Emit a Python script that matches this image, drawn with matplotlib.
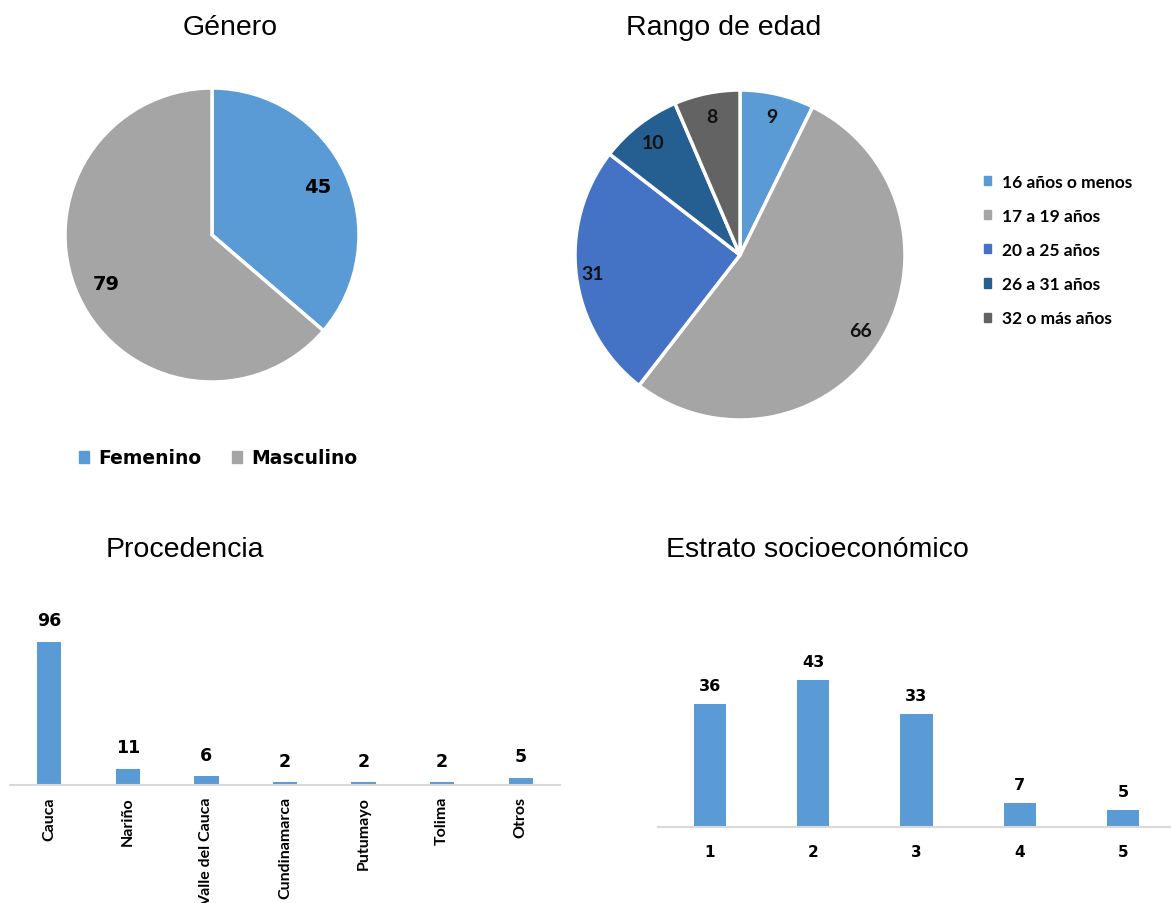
import matplotlib
matplotlib.use('Agg')
import matplotlib.pyplot as plt
import numpy as np
from matplotlib.patches import Patch

# datos de la encuesta
genero = ['Femenino', 'Masculino']
genero_n = [45, 79]

edad = ['16 años o menos', '17 a 19 años', '20 a 25 años', '26 a 31 años', '32 o más años']
edad_n = [9, 66, 31, 10, 8]

procedencia = ['Cauca', 'Nariño', 'Valle del Cauca', 'Cundinamarca', 'Putumayo', 'Tolima', 'Otros']
procedencia_n = [96, 11, 6, 2, 2, 2, 5]

estrato = ['1', '2', '3', '4', '5']
estrato_n = [36, 43, 33, 7, 5]

AZUL = '#5B9BD5'
GRIS = '#A5A5A5'
colores_edad = [AZUL, GRIS, '#4472C4', '#255E91', '#636363']

W, H = 1171, 904
fig = plt.figure(figsize=(W / 100, H / 100), dpi=100)
fig.patch.set_facecolor('white')

def caja(x0, y_top, w, h):
    # rectangulo en pixeles (origen arriba a la izquierda) -> fracciones de figura
    return [x0 / W, (H - y_top - h) / H, w / W, h / H]

titulo = dict(family='Liberation Sans', fontsize=20.5, ha='center', va='center')
fig.text(230 / W, 1 - 28 / H, 'Género', **titulo)
fig.text(724 / W, 1 - 28 / H, 'Rango de edad', **titulo)
fig.text(185 / W, 1 - 550 / H, 'Procedencia', **titulo)
fig.text(817 / W, 1 - 550 / H, 'Estrato socioeconómico', **titulo)

# ---- Género ----
r1 = 147
ax1 = fig.add_axes(caja(212 - r1, 236 - r1, 2 * r1, 2 * r1))
w1, _ = ax1.pie(genero_n, colors=[AZUL, GRIS], startangle=90, counterclock=False,
                wedgeprops=dict(edgecolor='white', linewidth=2.5))
for w, v in zip(w1, genero_n):
    ang = np.deg2rad((w.theta1 + w.theta2) / 2)
    ax1.text(0.79 * np.cos(ang), 0.79 * np.sin(ang), str(v), ha='center', va='center',
             fontsize=14, fontweight='bold', family='DejaVu Sans', color='black')
ax1.set_xlim(-1, 1)
ax1.set_ylim(-1, 1)
ax1.set_aspect('equal')

fig.legend(handles=[Patch(color=AZUL, label='Femenino'), Patch(color=GRIS, label='Masculino')],
           loc='center', bbox_to_anchor=(218 / W, 1 - 459 / H), ncol=2, frameon=False,
           prop=dict(family='DejaVu Sans', weight='bold', size=13.5),
           handlelength=0.55, handleheight=0.55, handletextpad=0.5, columnspacing=1.6)

# ---- Rango de edad ----
r2 = 165
ax2 = fig.add_axes(caja(740 - r2, 256 - r2, 2 * r2, 2 * r2))
w2, _ = ax2.pie(edad_n, colors=colores_edad, startangle=90, counterclock=False,
                wedgeprops=dict(edgecolor='white', linewidth=2.5))
for w, v in zip(w2, edad_n):
    ang = np.deg2rad((w.theta1 + w.theta2) / 2)
    d = 0.9 if v == 31 else 0.86
    ax2.text(d * np.cos(ang), d * np.sin(ang), str(v), ha='center', va='center',
             fontsize=14, fontweight='bold', family='Lato', color='#111111')
ax2.set_xlim(-1, 1)
ax2.set_ylim(-1, 1)
ax2.set_aspect('equal')

fig.legend(handles=[Patch(color=c, label=l) for c, l in zip(colores_edad, edad)],
           loc='center left', bbox_to_anchor=(968 / W, 1 - 251 / H), ncol=1, frameon=False,
           prop=dict(family='Lato', weight='bold', size=12.5),
           handlelength=0.45, handleheight=0.45, handletextpad=0.6, labelspacing=1.05)

# ---- Procedencia ----
ax3 = fig.add_axes(caja(10, 786 - 200, 550, 200))
x3 = np.arange(len(procedencia))
b3 = ax3.bar(x3, procedencia_n, width=0.31, color=AZUL)
ax3.set_xlim(-0.5, len(procedencia) - 0.5)
ax3.set_ylim(0, 134)
for rect, v in zip(b3, procedencia_n):
    ax3.annotate(str(v), (rect.get_x() + rect.get_width() / 2, v), xytext=(0, 9),
                 textcoords='offset points', ha='center', va='bottom',
                 fontsize=12.5, fontweight='bold', family='DejaVu Sans')
ax3.set_xticks(x3)
ax3.set_xticklabels(procedencia, rotation=90, family='Lato', fontweight='bold', fontsize=11.5)
ax3.tick_params(axis='x', length=0, pad=8)
ax3.set_yticks([])
for s in ['top', 'right', 'left']:
    ax3.spines[s].set_visible(False)
ax3.spines['bottom'].set_color('#D9D9D9')
ax3.spines['bottom'].set_linewidth(1.5)

# ---- Estrato ----
ax4 = fig.add_axes(caja(658, 828 - 200, 517, 200))
x4 = np.arange(len(estrato))
b4 = ax4.bar(x4, estrato_n, width=0.31, color=AZUL)
ax4.set_xlim(-0.5, len(estrato) - 0.5)
ax4.set_ylim(0, 58.5)
for rect, v in zip(b4, estrato_n):
    ax4.annotate(str(v), (rect.get_x() + rect.get_width() / 2, v), xytext=(0, 8),
                 textcoords='offset points', ha='center', va='bottom',
                 fontsize=11.5, fontweight='bold', family='DejaVu Sans')
ax4.set_xticks(x4)
ax4.set_xticklabels(estrato, family='DejaVu Sans', fontweight='bold', fontsize=11)
ax4.tick_params(axis='x', length=0, pad=12)
ax4.set_yticks([])
for s in ['top', 'right', 'left']:
    ax4.spines[s].set_visible(False)
ax4.spines['bottom'].set_color('#D9D9D9')
ax4.spines['bottom'].set_linewidth(1.5)

fig.savefig('out.png', dpi=100)
